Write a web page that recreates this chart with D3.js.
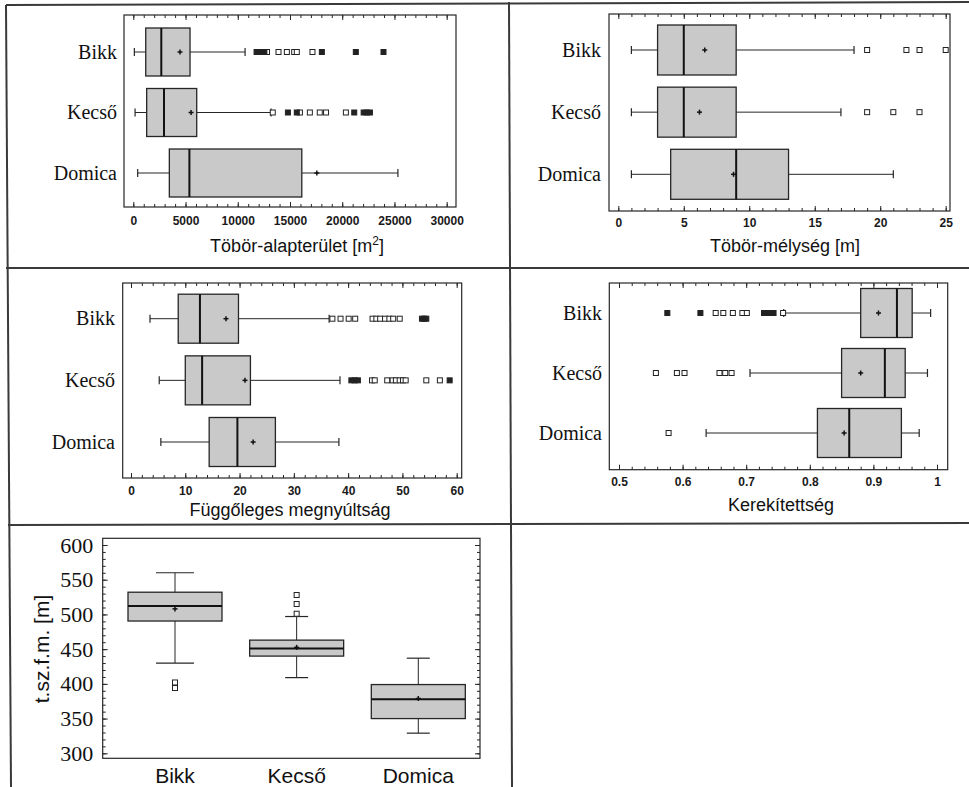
<!DOCTYPE html>
<html><head><meta charset="utf-8">
<script src="https://cdn.jsdelivr.net/npm/d3@7"></script>
<style>body{margin:0;background:#fff} svg{display:block}</style>
</head><body>
<svg id="c" width="969" height="787"></svg>
<script>
// ---------------- DATA ----------------
const categories = ["Bikk", "Kecső", "Domica"];
// per category: [lower whisker, Q1, median, Q3, upper whisker, mean]
const areaStats  = [[100, 1190, 2680, 5430, 10700, 4470], [170, 1280, 2940, 6070, 13190, 5530], [420, 3450, 5370, 16130, 25330, 17570]];
const areaOpen   = [[12800, 13900, 14700, 15400, 15650, 17150], [13350, 15950, 16900, 17850, 18450, 20350], []];
const areaFar    = [[11800, 12050, 12300, 12550, 18050, 21300, 23950], [14800, 15650, 21150, 22050, 22350, 22650], []];
const areaTicks  = [0, 5000, 10000, 15000, 20000, 25000, 30000];

const depthStats = [[1, 3, 5, 9, 18, 6.6], [1, 3, 5, 9, 17, 6.2], [1, 4, 9, 13, 21, 8.8]];
const depthOpen  = [[19, 22, 23, 25], [19, 21, 23], []];
const depthFar   = [[], [], []];
const depthTicks = [0, 5, 10, 15, 20, 25];

const elongStats = [[3.5, 8.7, 12.7, 19.8, 36.5, 17.5], [5.2, 10.0, 13.1, 22.0, 38.5, 21.0], [5.5, 14.4, 19.6, 26.6, 38.3, 22.5]];
const elongOpen  = [[37.1, 38.6, 40.1, 41.3, 44.5, 45.2, 45.9, 46.8, 47.6, 48.3, 49.5], [44.4, 44.9, 47.2, 48.2, 48.8, 49.5, 50.1, 50.6, 54.4, 56.9], []];
const elongFar   = [[53.6, 54.0, 54.4], [40.6, 41.2, 41.8, 58.7], []];
const elongTicks = [0, 10, 20, 30, 40, 50, 60];

const roundStats = [[0.759, 0.880, 0.937, 0.961, 0.990, 0.908], [0.706, 0.850, 0.918, 0.950, 0.985, 0.880], [0.637, 0.812, 0.862, 0.944, 0.972, 0.854]];
const roundOpen  = [[0.652, 0.664, 0.679, 0.694, 0.701, 0.758], [0.558, 0.591, 0.603, 0.658, 0.667, 0.677], [0.578]];
const roundFar   = [[0.576, 0.628, 0.728, 0.733, 0.738, 0.743], [], []];
const roundTicks = [0.5, 0.6, 0.7, 0.8, 0.9, 1];

const elevStats  = [[430, 490.5, 512, 532, 560, 508], [409, 440, 451, 463, 497, 452.6], [329, 350, 378, 399, 437, 379]];
const elevOpen   = [[402, 394], [528, 515, 501], []];
const elevTicks  = [300, 350, 400, 450, 500, 550, 600];

// ---------------- DRAWING ----------------
const svg = d3.select("#c");
const INK = "#262626";
const BOXFILL = "#c9c9c9";
const serif = "'Liberation Serif', 'Times New Roman', serif";
const sans = "'Liberation Sans', Arial, sans-serif";

// outer table lines
const frameLines = [
  [6, 5, 969, 2], [6, 5, 11, 787], [509, 2, 512, 787],
  [6, 268, 969, 268], [8, 525, 969, 523]
];
svg.append("g").selectAll("line").data(frameLines).join("line")
  .attr("x1", d => d[0]).attr("y1", d => d[1]).attr("x2", d => d[2]).attr("y2", d => d[3])
  .attr("stroke", "#3a3a3a").attr("stroke-width", 2);

function styleAxis(g) {
  g.select(".domain").remove();
  g.selectAll("line").attr("stroke", INK).attr("stroke-width", 1);
}

function hPanel(cfg, stats, open, far, ticks) {
  const g = svg.append("g");
  const x = d3.scaleLinear().domain(cfg.domain).range(cfg.range);
  const y = d3.scalePoint().domain(categories).range(cfg.catY);
  const f = cfg.frame;
  g.append("rect").attr("x", f[0]).attr("y", f[1]).attr("width", f[2] - f[0]).attr("height", f[3] - f[1])
    .attr("fill", "none").attr("stroke", INK).attr("stroke-width", 1.2);
  const minors = d3.range(cfg.domain[0], cfg.domain[1] + cfg.minor / 2, cfg.minor).filter(v => x(v) > f[0] + 1 && x(v) < f[2] - 1);
  // bottom major with labels
  const ab = g.append("g").attr("transform", `translate(0,${f[3]})`)
    .call(d3.axisBottom(x).tickValues(ticks).tickSize(-5).tickPadding(cfg.pad).tickFormat(d => String(d)));
  styleAxis(ab);
  ab.selectAll("text").attr("font-family", sans).attr("font-size", 12).attr("font-weight", "bold").attr("fill", "#1a1a1a");
  const abm = g.append("g").attr("transform", `translate(0,${f[3]})`)
    .call(d3.axisBottom(x).tickValues(minors).tickSize(-3).tickFormat(""));
  styleAxis(abm);
  const at = g.append("g").attr("transform", `translate(0,${f[1]})`)
    .call(d3.axisTop(x).tickValues(ticks).tickSize(-5).tickFormat(""));
  styleAxis(at);
  const atm = g.append("g").attr("transform", `translate(0,${f[1]})`)
    .call(d3.axisTop(x).tickValues(minors).tickSize(-3).tickFormat(""));
  styleAxis(atm);

  const h = cfg.boxH;
  categories.forEach((c, i) => {
    const s = stats[i];
    const cy = y(c);
    // whiskers
    g.append("line").attr("x1", x(s[0])).attr("x2", x(s[1])).attr("y1", cy).attr("y2", cy).attr("stroke", INK);
    g.append("line").attr("x1", x(s[3])).attr("x2", x(s[4])).attr("y1", cy).attr("y2", cy).attr("stroke", INK);
    [s[0], s[4]].forEach(v => g.append("line").attr("x1", x(v)).attr("x2", x(v)).attr("y1", cy - 4).attr("y2", cy + 4).attr("stroke", INK).attr("stroke-width", 1.2));
    // box
    g.append("rect").attr("x", x(s[1])).attr("y", cy - h / 2).attr("width", x(s[3]) - x(s[1])).attr("height", h)
      .attr("fill", BOXFILL).attr("stroke", INK).attr("stroke-width", 1.3);
    g.append("line").attr("x1", x(s[2])).attr("x2", x(s[2])).attr("y1", cy - h / 2).attr("y2", cy + h / 2).attr("stroke", "#111").attr("stroke-width", 2);
    // mean
    g.append("line").attr("x1", x(s[5]) - 2.5).attr("x2", x(s[5]) + 2.5).attr("y1", cy).attr("y2", cy).attr("stroke", "#111").attr("stroke-width", 1.5);
    g.append("line").attr("x1", x(s[5])).attr("x2", x(s[5])).attr("y1", cy - 2.5).attr("y2", cy + 2.5).attr("stroke", "#111").attr("stroke-width", 1.5);
    // outliers
    g.selectAll(null).data(open[i]).join("rect")
      .attr("x", d => x(d) - 2.5).attr("y", cy - 2.5).attr("width", 5).attr("height", 5)
      .attr("fill", "#fff").attr("stroke", "#222").attr("stroke-width", 1);
    g.selectAll(null).data(far[i]).join("rect")
      .attr("x", d => x(d) - 2.5).attr("y", cy - 2.5).attr("width", 5).attr("height", 5)
      .attr("fill", "#222").attr("stroke", "#222").attr("stroke-width", 1);
    // category label
    g.append("text").attr("x", cfg.labelX).attr("y", cy + 6.5).attr("text-anchor", "end")
      .attr("font-family", serif).attr("font-size", 20).attr("fill", "#111").text(c);
  });
  const t = g.append("text").attr("x", cfg.titleX).attr("y", cfg.titleY).attr("text-anchor", "middle")
    .attr("font-family", sans).attr("font-size", 18).attr("fill", "#111");
  cfg.title(t);
}

hPanel({ frame: [124, 15, 456, 207], domain: [0, 30000], range: [133.3, 446.7], minor: 1000,
         catY: [52, 173], boxH: 48, labelX: 117, pad: 9.5, titleX: 297, titleY: 252,
         title: t => { t.append("tspan").text("Töbör-alapterület [m");
                       t.append("tspan").attr("font-size", 12).attr("dy", -7).text("2");
                       t.append("tspan").attr("dy", 7).text("]"); } },
       areaStats, areaOpen, areaFar, areaTicks);

hPanel({ frame: [609, 14, 950, 211], domain: [0, 25], range: [618.3, 945.7], minor: 1,
         catY: [50, 174.3], boxH: 50, labelX: 601, pad: 7.5, titleX: 785, titleY: 252,
         title: t => t.text("Töbör-mélység [m]") },
       depthStats, depthOpen, depthFar, depthTicks);

hPanel({ frame: [122.7, 283, 461.7, 478], domain: [0, 60], range: [131, 456.7], minor: 2,
         catY: [318.7, 442], boxH: 49, labelX: 115, pad: 8.5, titleX: 290, titleY: 516,
         title: t => t.text("Függőleges megnyúltság") },
       elongStats, elongOpen, elongFar, elongTicks);

hPanel({ frame: [609.3, 283, 947.7, 469.7], domain: [0.5, 1], range: [619, 937], minor: 0.02,
         catY: [313, 433], boxH: 49, labelX: 602, pad: 8, titleX: 781, titleY: 511,
         title: t => t.text("Kerekítettség") },
       roundStats, roundOpen, roundFar, roundTicks);

// ---------- vertical panel ----------
(function () {
  const g = svg.append("g");
  const f = [102.7, 538.3, 480, 758.3];
  const x = d3.scalePoint().domain(categories).range([175, 418.3]);
  const y = d3.scaleLinear().domain([300, 600]).range([753.3, 545]);
  g.append("rect").attr("x", f[0]).attr("y", f[1]).attr("width", f[2] - f[0]).attr("height", f[3] - f[1])
    .attr("fill", "none").attr("stroke", INK).attr("stroke-width", 1.2);
  const minors = d3.range(300, 601, 10);
  const al = g.append("g").attr("transform", `translate(${f[0]},0)`)
    .call(d3.axisLeft(y).tickValues(elevTicks).tickSize(-5).tickPadding(9.4));
  styleAxis(al);
  al.selectAll("text").attr("font-family", serif).attr("font-size", 22).attr("fill", "#111");
  styleAxis(g.append("g").attr("transform", `translate(${f[0]},0)`).call(d3.axisLeft(y).tickValues(minors).tickSize(-3).tickFormat("")));
  styleAxis(g.append("g").attr("transform", `translate(${f[2]},0)`).call(d3.axisRight(y).tickValues(elevTicks).tickSize(-5).tickFormat("")));
  styleAxis(g.append("g").attr("transform", `translate(${f[2]},0)`).call(d3.axisRight(y).tickValues(minors).tickSize(-3).tickFormat("")));

  const w = 94;
  const caps = [38, 23, 23];
  categories.forEach((c, i) => {
    const s = elevStats[i];
    const cx = x(c);
    g.append("line").attr("x1", cx).attr("x2", cx).attr("y1", y(s[0])).attr("y2", y(s[1])).attr("stroke", INK);
    g.append("line").attr("x1", cx).attr("x2", cx).attr("y1", y(s[3])).attr("y2", y(s[4])).attr("stroke", INK);
    [s[0], s[4]].forEach(v => g.append("line").attr("x1", cx - caps[i] / 2).attr("x2", cx + caps[i] / 2)
      .attr("y1", y(v)).attr("y2", y(v)).attr("stroke", INK).attr("stroke-width", 1.2));
    g.append("rect").attr("x", cx - w / 2).attr("y", y(s[3])).attr("width", w).attr("height", y(s[1]) - y(s[3]))
      .attr("fill", BOXFILL).attr("stroke", INK).attr("stroke-width", 1.3);
    g.append("line").attr("x1", cx - w / 2).attr("x2", cx + w / 2).attr("y1", y(s[2])).attr("y2", y(s[2]))
      .attr("stroke", "#111").attr("stroke-width", 2);
    g.append("line").attr("x1", cx - 2.5).attr("x2", cx + 2.5).attr("y1", y(s[5])).attr("y2", y(s[5])).attr("stroke", "#111").attr("stroke-width", 1.5);
    g.append("line").attr("x1", cx).attr("x2", cx).attr("y1", y(s[5]) - 2.5).attr("y2", y(s[5]) + 2.5).attr("stroke", "#111").attr("stroke-width", 1.5);
    g.selectAll(null).data(elevOpen[i]).join("rect")
      .attr("x", cx - 2.5).attr("y", d => y(d) - 2.5).attr("width", 5).attr("height", 5)
      .attr("fill", "#fff").attr("stroke", "#222").attr("stroke-width", 1);
    g.append("text").attr("x", cx).attr("y", 783).attr("text-anchor", "middle")
      .attr("font-family", sans).attr("font-size", 21).attr("fill", "#111").text(c);
  });
  g.append("text").attr("transform", "translate(49,649) rotate(-90)").attr("text-anchor", "middle")
    .attr("font-family", sans).attr("font-size", 21).attr("fill", "#111").text("t.sz.f.m. [m]");
})();
</script>
</body></html>
